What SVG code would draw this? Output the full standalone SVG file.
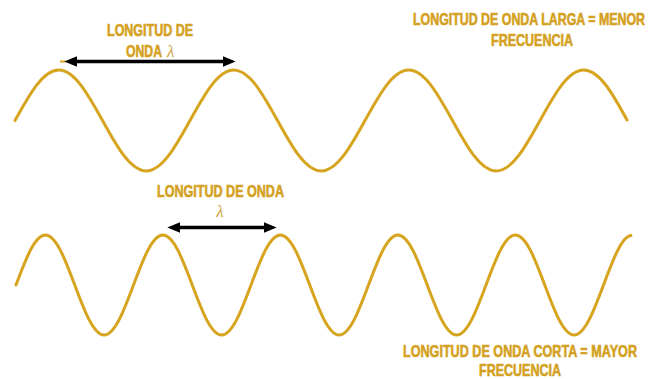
<svg xmlns="http://www.w3.org/2000/svg" width="652" height="379" viewBox="0 0 652 379">
<style>
.wave{fill:none;stroke:#D6A41E;stroke-width:3;stroke-linecap:round;stroke-linejoin:round}
.lbl{font-family:"Liberation Sans","DejaVu Sans",sans-serif;font-weight:bold;font-size:17px;fill:#D4A020;stroke:#D4A020;stroke-width:0.6}
.lam{font-family:"Liberation Serif","DejaVu Serif",serif;font-style:italic;font-size:17px;fill:#C9A140}
.arr{stroke:#000;stroke-width:3.5;fill:none}
</style>
<defs>
<marker id="ah" markerUnits="userSpaceOnUse" markerWidth="13" markerHeight="11" refX="4" refY="5" orient="auto-start-reverse" viewBox="0 0 12 10">
<path d="M0,0 L12,5 L0,10 z" fill="#000"/>
</marker>
</defs>
<rect width="652" height="379" fill="#fff"/>
<g id="wave-long">
<path class="wave" d="M15 120.5 C29.26 94.63 42.91 70 58.75 70 S88.24 94.63 102.5 120.5 S130.41 171 146.25 171 S175.74 146.37 190 120.5 S217.91 70 233.75 70 S263.24 94.63 277.5 120.5 S305.41 171 321.25 171 S350.74 146.37 365 120.5 S392.91 70 408.75 70 S438.24 94.63 452.5 120.5 S480.41 171 496.25 171 S525.74 146.37 540 120.5 S567.91 70 583.75 70 S613.24 94.63 627 120"/>
</g>
<g id="wave-short">
<path class="wave" d="M16 285 C25.58 259.4 34.75 235 45.375 235 S65.17 259.4 74.75 285 S93.5 335 104.125 335 S123.92 310.6 133.5 285 S152.25 235 162.875 235 S182.67 259.4 192.25 285 S211 335 221.625 335 S241.42 310.6 251 285 S269.75 235 280.375 235 S300.17 259.4 309.75 285 S328.5 335 339.125 335 S358.92 310.6 368.5 285 S387.25 235 397.875 235 S417.67 259.4 427.25 285 S446 335 456.625 335 S476.42 310.6 486 285 S504.75 235 515.375 235 S535.17 259.4 544.75 285 S563.5 335 574.125 335 S593.92 310.6 603.5 285 S622 236 631 235.5"/>
</g>
<g id="connectors">
<line x1="60" y1="61.5" x2="66" y2="61.5" stroke="#D6A41E" stroke-width="2"/>
<line class="arr" x1="73" y1="61.5" x2="227" y2="61.5" marker-start="url(#ah)" marker-end="url(#ah)"/>
<line class="arr" x1="176" y1="227.5" x2="268" y2="227.5" marker-start="url(#ah)" marker-end="url(#ah)"/>
</g>
<g id="label-top-left">
<text class="lbl" x="107" y="36" textLength="86" lengthAdjust="spacingAndGlyphs">LONGITUD DE</text>
<text class="lbl" x="126" y="57" textLength="36" lengthAdjust="spacingAndGlyphs">ONDA</text>
<text class="lam" x="167" y="57">λ</text>
</g>
<g id="label-top-right">
<text class="lbl" x="413" y="25" textLength="232" lengthAdjust="spacingAndGlyphs">LONGITUD DE ONDA LARGA = MENOR</text>
<text class="lbl" x="491" y="46" textLength="82" lengthAdjust="spacingAndGlyphs">FRECUENCIA</text>
</g>
<g id="label-middle">
<text class="lbl" x="157" y="197" textLength="127" lengthAdjust="spacingAndGlyphs">LONGITUD DE ONDA</text>
<text class="lam" x="220" y="217" text-anchor="middle">λ</text>
</g>
<g id="label-bottom-right">
<text class="lbl" x="403" y="357" textLength="234" lengthAdjust="spacingAndGlyphs">LONGITUD DE ONDA CORTA = MAYOR</text>
<text class="lbl" x="479" y="376" textLength="82" lengthAdjust="spacingAndGlyphs">FRECUENCIA</text>
</g>
</svg>
